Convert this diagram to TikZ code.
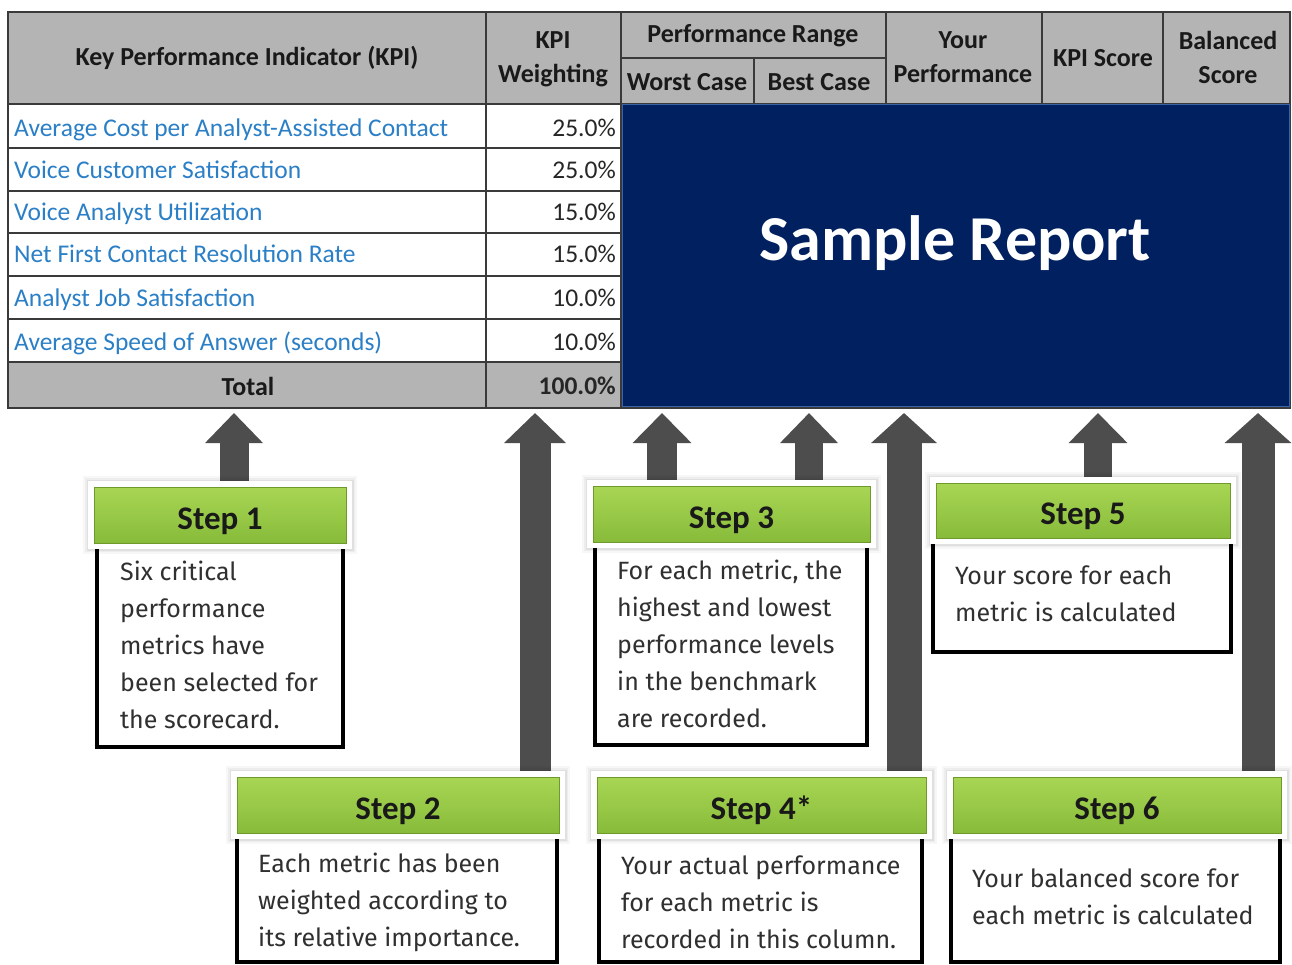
\documentclass[tikz,border=0pt]{standalone}
\usepackage{fontspec}
\setmainfont{Carlito}
\newfontfamily\bodyfont{Fira Sans}
\usetikzlibrary{arrows.meta}

\definecolor{hdrgray}{HTML}{B4B4B4}
\definecolor{gridline}{HTML}{3A3A3A}
\definecolor{kpiblue}{HTML}{2A7FC6}
\definecolor{navy}{HTML}{002060}
\definecolor{navyedge}{HTML}{3A64A8}
\definecolor{arrowgray}{HTML}{4D4D4D}
\definecolor{greenlight}{HTML}{A8D654}
\definecolor{greendark}{HTML}{88BB3A}
\definecolor{greenedge}{HTML}{6E9A2C}
\definecolor{bodytext}{HTML}{303030}

% lines of a step description, first baseline is the node's base
\newcommand\linestack[1]{\vtop{\baselineskip=37pt\halign{##\hfil\cr#1\crcr}}}

\begin{document}
\begin{tikzpicture}[x=1pt,y=-1pt,
  grid/.style={draw=gridline, line width=2.4pt},
  hdr/.style={font=\bfseries\fontsize{26}{34}\selectfont, align=center, inner sep=0pt, text=black!90},
  kpi/.style={font=\fontsize{25.5}{27}\selectfont, text=kpiblue, anchor=base west, inner sep=0pt},
  pct/.style={font=\fontsize{25.5}{27}\selectfont, text=black!85, anchor=base east, inner sep=0pt},
  blockarrow/.style 2 args={draw=arrowgray, line width=#1, -{Triangle[length=30pt,width=#2]}},
  stephead/.style={rectangle, inner sep=0pt, top color=greenlight, bottom color=greendark,
    draw=greenedge, line width=0.8pt, font=\bfseries\fontsize{33}{36}\selectfont, text=black!90,
    text height=28pt, text depth=0pt,
    preaction={draw=black, draw opacity=0.03, line width=22pt},
    preaction={draw=black, draw opacity=0.04, line width=18pt},
    preaction={draw=black, draw opacity=0.05, line width=15pt},
    preaction={draw=white, line width=12pt}},
  stepbody/.style={draw=black, line width=4pt, fill=white},
  bodytxt/.style={font=\bodyfont\fontsize{25}{37}\selectfont, text=bodytext, anchor=base west, inner sep=0pt}
]
\useasboundingbox[fill=white] (0,0) rectangle (1292,965);

% ---------- table ----------
\fill[hdrgray] (8,12) rectangle (1290,104);
\fill[hdrgray] (8,362) rectangle (621,408);
\fill[navy] (621,104) rectangle (1290,407);
\draw[grid] (8,12) rectangle (1290,408);
\draw[grid] (486,12) -- (486,408);
\draw[grid] (621,12) -- (621,408);
\foreach \x in {886,1042,1163} \draw[grid] (\x,12) -- (\x,104);
\draw[grid] (621,58) -- (886,58);
\draw[grid] (754,58) -- (754,104);
\draw[grid] (8,104) -- (1290,104);
\foreach \y in {148,191,233,276,319,362} \draw[grid] (8,\y) -- (621,\y);
\draw[navyedge, line width=1pt] (622,105) rectangle (1289,406);

\node[hdr] (hkpi) at (247,58) {Key Performance Indicator (KPI)};
\node[hdr] (hw) at (553,59) {KPI\\Weighting};
\node[hdr] (hrange) at (753,36) {Performance Range};
\node[hdr] (hworst) at (687,82) {Worst Case};
\node[hdr] (hbest) at (819,82) {Best Case};
\node[hdr] (hyour) at (963,57) {Your\\Performance};
\node[hdr] (hscore) at (1103,58) {KPI Score};
\node[hdr] (hbal) at (1228,57) {Balanced\\Score};

\node[kpi] (k1) at (14,137) {Average Cost per Analyst-Assisted Contact};
\node[kpi] (k2) at (14,179) {Voice Customer Satisfaction};
\node[kpi] (k3) at (14,221) {Voice Analyst Utilization};
\node[kpi] (k4) at (14,263) {Net First Contact Resolution Rate};
\node[kpi] (k5) at (14,307) {Analyst Job Satisfaction};
\node[kpi] (k6) at (14,350) {Average Speed of Answer (seconds)};
\node[pct] (w1) at (616,137) {25.0\%};
\node[pct] (w2) at (616,179) {25.0\%};
\node[pct] (w3) at (616,221) {15.0\%};
\node[pct] (w4) at (616,263) {15.0\%};
\node[pct] (w5) at (616,307) {10.0\%};
\node[pct] (w6) at (616,350) {10.0\%};
\node[hdr] (tot) at (248,386) {Total};
\node[pct, font=\bfseries\fontsize{25.5}{27}\selectfont] (wtot) at (616,394) {100.0\%};

\node[font=\bfseries\fontsize{64}{70}\selectfont, text=white, inner sep=0pt] (sample) at (955,243) {Sample Report};

% ---------- arrow targets ----------
\coordinate (t1) at (234,413);
\coordinate (t2) at (535,413);
\coordinate (t3) at (662,413);
\coordinate (t4) at (809,413);
\coordinate (t5) at (904,413);
\coordinate (t6) at (1098,413);
\coordinate (t7) at (1258,413);

% ---------- step header centres ----------
\path (220,515) coordinate (c1) (398,805) coordinate (c2) (731.5,514) coordinate (c3)
      (761.5,805) coordinate (c4) (1083,510.5) coordinate (c5) (1117,805) coordinate (c6);

% ---------- arrows ----------
\draw[blockarrow={29pt}{56pt}] (t1 |- c1) -- (t1);
\draw[blockarrow={31pt}{60pt}] (t2 |- c2) -- (t2);
\draw[blockarrow={30pt}{57pt}] (t3 |- c3) -- (t3);
\draw[blockarrow={28pt}{56pt}] (t4 |- c3) -- (t4);
\draw[blockarrow={35pt}{64pt}] (t5 |- c4) -- (t5);
\draw[blockarrow={28pt}{57pt}] (t6 |- c5) -- (t6);
\draw[blockarrow={33pt}{65pt}] (t7 |- c6) -- (t7);

% ---------- step description boxes ----------
\draw[stepbody] (97,545) rectangle (343,747);
\draw[stepbody] (237,835) rectangle (557,962);
\draw[stepbody] (595,545) rectangle (867,745);
\draw[stepbody] (599,835) rectangle (922,962);
\draw[stepbody] (933,540) rectangle (1231,652);
\draw[stepbody] (951,835) rectangle (1280,962);

% ---------- step headers ----------
\node[stephead, minimum width=252pt, minimum height=56pt] (s1) at (c1) {Step 1};
\node[stephead, minimum width=322pt, minimum height=56pt] (s2) at (c2) {Step 2};
\node[stephead, minimum width=277pt, minimum height=56pt] (s3) at (c3) {Step 3};
\node[stephead, minimum width=329pt, minimum height=56pt] (s4) at (c4) {Step 4*};
\node[stephead, minimum width=294pt, minimum height=55pt] (s5) at (c5) {Step 5};
\node[stephead, minimum width=328pt, minimum height=56pt] (s6) at (c6) {Step 6};

% ---------- step texts ----------
\node[bodytxt] (b1) at (120,580) {\linestack{Six critical\cr performance\cr metrics have\cr been selected for\cr the scorecard.}};
\node[bodytxt] (b2) at (258,872) {\linestack{Each metric has been\cr weighted according to\cr its relative importance.}};
\node[bodytxt] (b3) at (617,579) {\linestack{For each metric, the\cr highest and lowest\cr performance levels\cr in the benchmark\cr are recorded.}};
\node[bodytxt] (b4) at (621,874) {\linestack{Your actual performance\cr for each metric is\cr recorded in this column.}};
\node[bodytxt] (b5) at (955,584) {\linestack{Your score for each\cr metric is calculated}};
\node[bodytxt] (b6) at (972,887) {\linestack{Your balanced score for\cr each metric is calculated}};
\end{tikzpicture}
\end{document}
